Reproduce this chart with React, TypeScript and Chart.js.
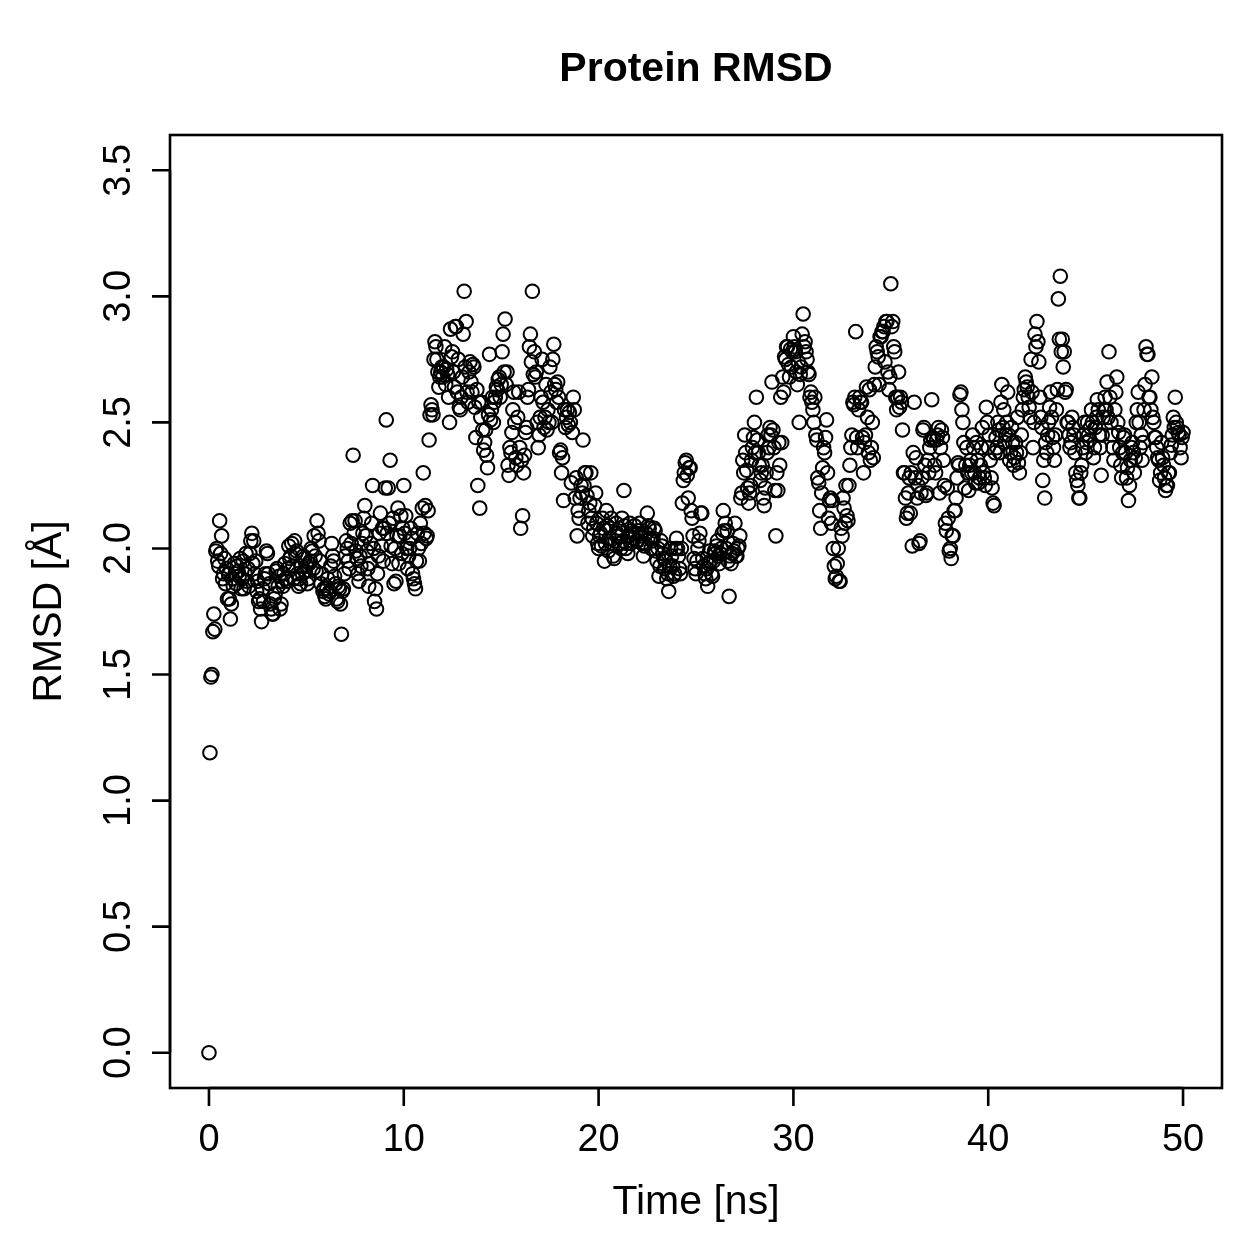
import { useEffect, useRef } from "react";
import { Chart, registerables } from "chart.js";

Chart.register(...registerables);

// Sampling interval of the trajectory frames (ns)
const TIME_STEP_NS = 0.05;

// Protein backbone RMSD (Å), one value per frame, 20 frames per ns row
const rmsd0to10 = [
  0.00, 1.19, 1.49, 1.50, 1.67, 1.74, 1.68, 1.99, 2.00, 1.95, 1.93, 2.11, 1.98, 2.05, 1.88, 1.90, 1.96, 1.86, 1.92, 1.80,
  1.90, 1.80, 1.72, 1.78, 1.88, 1.85, 1.94, 1.90, 1.86, 1.93, 1.91, 1.89, 1.96, 1.84, 1.88, 1.95, 1.84, 1.90, 1.98, 1.87,
  1.92, 1.85, 1.98, 2.03, 2.06, 1.94, 2.03, 1.90, 1.95, 1.83, 1.87, 1.79, 1.80, 1.76, 1.71, 1.84, 1.79, 1.88, 1.90, 1.99,
  1.98, 1.90, 1.86, 1.78, 1.76, 1.74, 1.74, 1.80, 1.82, 1.91, 1.92, 1.85, 1.89, 1.76, 1.78, 1.87, 1.85, 1.90, 1.94, 1.88,
  1.87, 1.92, 2.01, 1.96, 1.97, 2.02, 1.93, 1.88, 2.03, 1.98, 1.99, 1.90, 1.85, 1.88, 1.86, 1.93, 1.90, 1.97, 1.96, 1.91,
  1.93, 1.86, 1.88, 1.94, 1.95, 2.00, 1.99, 1.92, 2.05, 1.97, 1.91, 2.11, 2.06, 2.03, 1.95, 1.86, 1.90, 1.83, 1.84, 1.81,
  1.80, 1.84, 1.88, 1.82, 1.83, 1.93, 2.02, 1.97, 1.95, 1.89, 1.86, 1.80, 1.79, 1.85, 1.84, 1.78, 1.66, 1.83, 1.84, 1.90,
  1.97, 2.03, 2.00, 1.95, 1.92, 2.10, 2.02, 2.11, 2.37, 2.06, 2.11, 1.99, 1.96, 1.90, 1.87, 1.97, 1.93, 2.02, 2.06, 2.12,
  2.17, 2.05, 1.99, 1.92, 1.85, 1.94, 2.02, 2.10, 2.25, 2.00, 1.79, 1.84, 1.76, 1.90, 1.97, 2.06, 2.14, 2.01, 2.08, 1.95,
  2.08, 2.24, 2.51, 2.06, 2.24, 2.10, 2.35, 2.01, 1.94, 2.12, 1.86, 2.00, 1.87, 2.05, 2.16, 1.94, 2.05, 2.13, 1.98, 2.08,
];
const rmsd10to20 = [
  2.25, 2.06, 2.13, 2.00, 1.92, 1.97, 2.00, 2.08, 2.04, 1.90, 1.88, 1.86, 1.84, 1.95, 2.06, 2.00, 1.95, 2.10, 2.02, 2.16,
  2.30, 2.06, 2.17, 2.04, 2.05, 2.15, 2.43, 2.53, 2.57, 2.55, 2.53, 2.75, 2.82, 2.80, 2.75, 2.70, 2.64, 2.68, 2.70, 2.72,
  2.68, 2.72, 2.80, 2.65, 2.71, 2.69, 2.60, 2.50, 2.87, 2.76, 2.78, 2.70, 2.64, 2.88, 2.88, 2.62, 2.75, 2.56, 2.55, 2.60,
  2.68, 2.85, 3.02, 2.72, 2.90, 2.62, 2.58, 2.70, 2.74, 2.66, 2.62, 2.73, 2.72, 2.56, 2.44, 2.63, 2.25, 2.58, 2.16, 2.52,
  2.58, 2.47, 2.39, 2.42, 2.47, 2.37, 2.32, 2.53, 2.77, 2.51, 2.55, 2.60, 2.50, 2.58, 2.60, 2.64, 2.63, 2.67, 2.68, 2.60,
  2.65, 2.78, 2.85, 2.70, 2.91, 2.65, 2.70, 2.33, 2.29, 2.40, 2.38, 2.46, 2.55, 2.62, 2.50, 2.36, 2.33, 2.52, 2.62, 2.40,
  2.08, 2.35, 2.13, 2.30, 2.37, 2.46, 2.48, 2.60, 2.63, 2.80, 2.85, 2.74, 3.02, 2.69, 2.78, 2.68, 2.70, 2.50, 2.40, 2.45,
  2.52, 2.60, 2.75, 2.58, 2.48, 2.52, 2.65, 2.47, 2.55, 2.50, 2.72, 2.62, 2.50, 2.75, 2.81, 2.65, 2.63, 2.58, 2.66, 2.60,
  2.38, 2.39, 2.30, 2.36, 2.19, 2.55, 2.48, 2.52, 2.55, 2.49, 2.54, 2.50, 2.26, 2.46, 2.60, 2.55, 2.20, 2.28, 2.05, 2.15,
  2.12, 2.20, 2.25, 2.22, 2.43, 2.25, 2.30, 2.30, 2.21, 2.10, 2.15, 2.18, 2.30, 2.12, 2.05, 2.08, 2.17, 2.22, 2.10, 2.02,
];
const rmsd20to30 = [
  2.00, 2.05, 2.06, 2.01, 2.12, 2.08, 1.95, 2.02, 2.15, 2.09, 1.99, 2.04, 2.08, 2.12, 2.02, 1.97, 1.96, 2.03, 2.10, 2.06,
  2.05, 2.08, 2.02, 2.00, 2.12, 2.03, 2.23, 2.09, 2.00, 2.02, 1.98, 2.05, 2.10, 2.02, 2.07, 2.06, 2.04, 2.09, 2.06, 2.03,
  2.03, 2.07, 2.10, 2.05, 2.06, 2.02, 1.97, 2.01, 2.02, 2.06, 2.14, 2.09, 2.08, 2.04, 2.00, 2.03, 2.04, 2.08, 2.07, 1.99,
  1.95, 2.00, 1.89, 1.93, 2.03, 2.01, 1.98, 1.96, 1.92, 1.95, 1.88, 1.90, 1.83, 1.93, 2.00, 1.97, 1.93, 1.89, 1.90, 2.00,
  2.04, 2.00, 1.97, 1.92, 1.90, 2.00, 2.18, 2.27, 2.30, 2.34, 2.35, 2.29, 2.20, 2.32, 2.32, 2.15, 2.12, 2.05, 1.96, 1.92,
  1.90, 1.95, 2.00, 2.03, 2.06, 2.14, 2.14, 1.96, 1.93, 1.90, 1.88, 1.92, 1.85, 1.94, 1.99, 1.95, 1.90, 1.89, 1.95, 1.99,
  1.98, 2.01, 2.03, 1.97, 1.94, 1.98, 2.00, 2.06, 2.15, 2.07, 2.10, 2.00, 2.07, 1.95, 1.81, 1.97, 1.94, 1.98, 2.02, 1.99,
  2.10, 1.97, 1.97, 2.00, 2.01, 2.05, 2.20, 2.22, 2.35, 2.30, 2.45, 2.38, 2.31, 2.24, 2.18, 2.22, 2.25, 2.35, 2.40, 2.44,
  2.50, 2.38, 2.60, 2.43, 2.38, 2.33, 2.27, 2.30, 2.33, 2.20, 2.17, 2.24, 2.30, 2.38, 2.45, 2.40, 2.48, 2.45, 2.66, 2.47,
  2.40, 2.23, 2.05, 2.30, 2.23, 2.42, 2.33, 2.60, 2.42, 2.68, 2.62, 2.76, 2.75, 2.80, 2.80, 2.73, 2.68, 2.79, 2.72, 2.78,
];
const rmsd30to40 = [
  2.84, 2.80, 2.78, 2.70, 2.65, 2.74, 2.50, 2.69, 2.72, 2.85, 2.93, 2.80, 2.82, 2.78, 2.75, 2.70, 2.69, 2.60, 2.62, 2.58,
  2.55, 2.50, 2.60, 2.45, 2.43, 2.28, 2.26, 2.15, 2.08, 2.22, 2.32, 2.40, 2.38, 2.44, 2.51, 2.30, 2.12, 2.19, 2.20, 2.10,
  2.19, 2.00, 1.93, 1.88, 1.89, 1.94, 2.00, 1.87, 1.87, 2.08, 2.05, 2.20, 2.16, 2.10, 2.25, 2.13, 2.11, 2.25, 2.33, 2.40,
  2.45, 2.58, 2.57, 2.60, 2.86, 2.44, 2.40, 2.55, 2.60, 2.58, 2.58, 2.44, 2.30, 2.42, 2.45, 2.64, 2.52, 2.38, 2.63, 2.35,
  2.40, 2.50, 2.36, 2.65, 2.72, 2.80, 2.78, 2.76, 2.65, 2.84, 2.84, 2.86, 2.86, 2.88, 2.74, 2.90, 2.90, 2.70, 2.63, 2.68,
  3.05, 2.88, 2.90, 2.80, 2.78, 2.60, 2.55, 2.60, 2.70, 2.56, 2.60, 2.58, 2.47, 2.30, 2.30, 2.20, 2.12, 2.14, 2.22, 2.28,
  2.14, 2.30, 2.01, 2.38, 2.58, 2.28, 2.36, 2.20, 2.25, 2.02, 2.03, 2.22, 2.28, 2.47, 2.48, 2.33, 2.21, 2.22, 2.35, 2.30,
  2.40, 2.43, 2.59, 2.44, 2.43, 2.33, 2.30, 2.43, 2.45, 2.48, 2.22, 2.40, 2.47, 2.44, 2.35, 2.25, 2.10, 2.07, 2.24, 2.12,
  1.99, 2.00, 1.96, 2.05, 2.05, 2.15, 2.15, 2.20, 2.28, 2.34, 2.33, 2.61, 2.62, 2.55, 2.50, 2.42, 2.24, 2.33, 2.40, 2.30,
  2.23, 2.33, 2.35, 2.30, 2.45, 2.40, 2.30, 2.26, 2.42, 2.35, 2.26, 2.28, 2.33, 2.40, 2.48, 2.30, 2.28, 2.25, 2.56, 2.50,
];
const rmsd40to50 = [
  2.40, 2.45, 2.35, 2.28, 2.24, 2.18, 2.17, 2.38, 2.44, 2.40, 2.50, 2.47, 2.38, 2.58, 2.65, 2.48, 2.55, 2.42, 2.45, 2.50,
  2.62, 2.45, 2.35, 2.38, 2.48, 2.42, 2.33, 2.36, 2.42, 2.38, 2.52, 2.34, 2.30, 2.38, 2.45, 2.55, 2.60, 2.63, 2.68, 2.66,
  2.64, 2.60, 2.56, 2.52, 2.75, 2.62, 2.40, 2.50, 2.85, 2.80, 2.90, 2.82, 2.74, 2.60, 2.52, 2.48, 2.27, 2.35, 2.20, 2.42,
  2.38, 2.45, 2.50, 2.56, 2.62, 2.52, 2.44, 2.40, 2.35, 2.45, 2.55, 2.63, 2.99, 2.83, 3.08, 2.78, 2.83, 2.72, 2.78, 2.62,
  2.63, 2.50, 2.50, 2.45, 2.40, 2.42, 2.52, 2.48, 2.45, 2.38, 2.30, 2.27, 2.25, 2.20, 2.20, 2.30, 2.33, 2.40, 2.45, 2.50,
  2.38, 2.42, 2.50, 2.45, 2.43, 2.48, 2.55, 2.50, 2.36, 2.40, 2.48, 2.52, 2.59, 2.55, 2.45, 2.40, 2.29, 2.45, 2.52, 2.55,
  2.60, 2.55, 2.66, 2.52, 2.78, 2.60, 2.50, 2.45, 2.40, 2.35, 2.55, 2.62, 2.68, 2.50, 2.46, 2.40, 2.33, 2.28, 2.38, 2.44,
  2.45, 2.38, 2.28, 2.32, 2.19, 2.25, 2.35, 2.40, 2.42, 2.38, 2.30, 2.36, 2.50, 2.55, 2.62, 2.50, 2.40, 2.45, 2.35, 2.42,
  2.55, 2.65, 2.80, 2.77, 2.77, 2.60, 2.60, 2.55, 2.68, 2.52, 2.50, 2.44, 2.44, 2.40, 2.36, 2.35, 2.27, 2.30, 2.42, 2.36,
  2.33, 2.28, 2.23, 2.25, 2.25, 2.30, 2.30, 2.38, 2.41, 2.45, 2.52, 2.48, 2.60, 2.50, 2.48, 2.46, 2.45, 2.40, 2.36, 2.44,
  2.46,
];

const rmsdValues = [
  ...rmsd0to10,
  ...rmsd10to20,
  ...rmsd20to30,
  ...rmsd30to40,
  ...rmsd40to50,
];

const xTicks = [0, 10, 20, 30, 40, 50];
const xTickLabels = ["0", "10", "20", "30", "40", "50"];
const yTicks = [0, 0.5, 1, 1.5, 2, 2.5, 3, 3.5];
const yTickLabels = ["0.0", "0.5", "1.0", "1.5", "2.0", "2.5", "3.0", "3.5"];

const chartTitle = "Protein RMSD";
const xAxisTitle = "Time [ns]";
const yAxisTitle = "RMSD [Å]";

const FONT = '"Liberation Sans", Arial, Helvetica, sans-serif';

// Base-graphics style frame: box, outward ticks, rotated y labels, titles
const basePlotFrame = {
  id: "basePlotFrame",
  afterDraw(chart: any) {
    const { ctx, chartArea: a } = chart;
    const xs = chart.scales.x;
    const ys = chart.scales.y;
    const tickLen = 18;
    ctx.save();
    ctx.strokeStyle = "#000";
    ctx.fillStyle = "#000";
    ctx.lineWidth = 2.6;
    ctx.lineCap = "butt";
    ctx.strokeRect(a.left, a.top, a.right - a.left, a.bottom - a.top);

    ctx.beginPath();
    const xFirst = xs.getPixelForValue(xTicks[0]);
    const xLast = xs.getPixelForValue(xTicks[xTicks.length - 1]);
    ctx.moveTo(xFirst, a.bottom);
    ctx.lineTo(xLast, a.bottom);
    xTicks.forEach((v) => {
      const px = xs.getPixelForValue(v);
      ctx.moveTo(px, a.bottom);
      ctx.lineTo(px, a.bottom + tickLen);
    });
    const yFirst = ys.getPixelForValue(yTicks[0]);
    const yLast = ys.getPixelForValue(yTicks[yTicks.length - 1]);
    ctx.moveTo(a.left, yFirst);
    ctx.lineTo(a.left, yLast);
    yTicks.forEach((v) => {
      const py = ys.getPixelForValue(v);
      ctx.moveTo(a.left, py);
      ctx.lineTo(a.left - tickLen, py);
    });
    ctx.stroke();

    ctx.font = `38px ${FONT}`;
    ctx.textAlign = "center";
    ctx.textBaseline = "middle";
    xTicks.forEach((v, i) => {
      ctx.fillText(xTickLabels[i], xs.getPixelForValue(v), a.bottom + 53);
    });
    yTicks.forEach((v, i) => {
      ctx.save();
      ctx.translate(a.left - 50, ys.getPixelForValue(v));
      ctx.rotate(-Math.PI / 2);
      ctx.fillText(yTickLabels[i], 0, 0);
      ctx.restore();
    });

    const midX = (a.left + a.right) / 2;
    const midY = (a.top + a.bottom) / 2;
    ctx.font = `41px ${FONT}`;
    ctx.fillText(xAxisTitle, midX, a.bottom + 115);
    ctx.save();
    ctx.translate(a.left - 120, midY);
    ctx.rotate(-Math.PI / 2);
    ctx.fillText(yAxisTitle, 0, 0);
    ctx.restore();

    ctx.font = `bold 41px ${FONT}`;
    ctx.fillText(chartTitle, midX, 70);
    ctx.restore();
  },
};

export default function App() {
  const canvasRef = useRef<HTMLCanvasElement | null>(null);

  useEffect(() => {
    document.body.style.margin = "0";
    const canvas = canvasRef.current;
    if (!canvas) return;
    const points = rmsdValues.map((v, i) => ({
      x: Math.round(i * TIME_STEP_NS * 100) / 100,
      y: v,
    }));
    const chart = new Chart(canvas, {
      type: "scatter",
      data: {
        datasets: [
          {
            data: points,
            pointStyle: "circle",
            pointRadius: 6.8,
            pointBorderWidth: 2,
            pointBorderColor: "#000",
            pointBackgroundColor: "rgba(0,0,0,0)",
            pointHoverRadius: 6.8,
          },
        ],
      },
      options: {
        animation: false,
        responsive: false,
        devicePixelRatio: 1,
        events: [],
        layout: { padding: { left: 170, right: 37, top: 135, bottom: 171 } },
        plugins: {
          legend: { display: false },
          tooltip: { enabled: false },
          title: { display: false },
        },
        scales: {
          x: { type: "linear", min: -2, max: 52, display: false },
          y: { type: "linear", min: -0.14, max: 3.64, display: false },
        },
      },
      plugins: [basePlotFrame],
    });
    return () => chart.destroy();
  }, []);

  return (
    <div style={{ width: 1259, height: 1259, background: "#fff" }}>
      <canvas ref={canvasRef} width={1259} height={1259} />
    </div>
  );
}
